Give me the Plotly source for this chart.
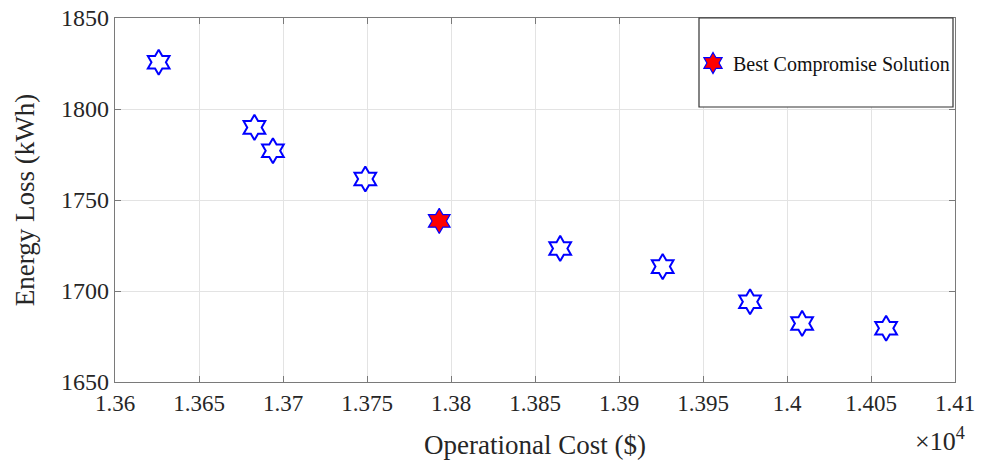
import plotly.graph_objects as go

# Pareto front data (Operational Cost in $, Energy Loss in kWh)
cost = [13626, 13683, 13694, 13749, 13865, 13926, 13978, 14009, 14059]
loss = [1825.7, 1789.9, 1777.1, 1761.5, 1723.4, 1713.4, 1694.1, 1682.2, 1679.5]

best_cost = [13793]
best_loss = [1738.5]

x_tickvals = [13600, 13650, 13700, 13750, 13800, 13850, 13900, 13950, 14000, 14050, 14100]
x_ticktext = ["1.36", "1.365", "1.37", "1.375", "1.38", "1.385", "1.39", "1.395", "1.4", "1.405", "1.41"]
y_tickvals = [1650, 1700, 1750, 1800, 1850]

FONT = "Liberation Serif, Times New Roman, serif"
TXT = "#262626"
AX = "#7a7a7a"
GRID = "#e3e3e3"

fig = go.Figure()
fig.add_trace(go.Scatter(
    x=cost, y=loss, mode="markers", showlegend=False,
    marker=dict(symbol="hexagram-open", size=19, color="#0000ff",
                line=dict(color="#0000ff", width=2)),
))
fig.add_trace(go.Scatter(
    x=best_cost, y=best_loss, mode="markers", name="Best Compromise Solution",
    marker=dict(symbol="hexagram", size=19, color="#ff0000",
                line=dict(color="#0000ff", width=1.2)),
))

fig.update_layout(
    width=991, height=467,
    margin=dict(l=115, r=36, t=18, b=85, autoexpand=False),
    paper_bgcolor="white", plot_bgcolor="white",
    font=dict(family=FONT, color=TXT),
    showlegend=True,
    legend=dict(
        x=(693 - 115) / 840, y=1 - (63 - 18) / 364,
        xanchor="left", yanchor="middle",
        bgcolor="rgba(0,0,0,0)", borderwidth=0,
        font=dict(family=FONT, size=20, color="#111111"),
        itemwidth=30,
    ),
    shapes=[dict(
        type="rect", xref="paper", yref="paper",
        x0=(699 - 115) / 840, x1=(953 - 115) / 840,
        y0=1 - (107 - 18) / 364, y1=1.0,
        line=dict(color="#333333", width=1.2), fillcolor="white", layer="above",
    )],
    annotations=[dict(
        text="×10<sup>4</sup>", xref="paper", yref="paper",
        x=(940 - 115) / 840, y=1 - (439 - 18) / 364,
        xanchor="center", yanchor="middle", showarrow=False,
        font=dict(family=FONT, size=26, color=TXT),
    )],
)

fig.update_xaxes(
    range=[13600, 14100], tickvals=x_tickvals, ticktext=x_ticktext,
    showgrid=True, gridcolor=GRID, gridwidth=1,
    showline=True, linecolor=AX, linewidth=1.2, mirror="ticks",
    ticks="inside", ticklen=6, tickcolor=AX,
    tickfont=dict(family=FONT, size=23, color=TXT),
    zeroline=False, automargin=False,
    title=dict(text="Operational Cost ($)", font=dict(family=FONT, size=27, color=TXT), standoff=20),
)
fig.update_yaxes(
    range=[1650, 1850], tickvals=y_tickvals,
    showgrid=True, gridcolor=GRID, gridwidth=1,
    showline=True, linecolor=AX, linewidth=1.2, mirror="ticks",
    ticks="inside", ticklen=6, tickcolor=AX,
    tickfont=dict(family=FONT, size=24, color=TXT),
    zeroline=False, automargin=False,
    title=dict(text="Energy Loss (kWh)", font=dict(family=FONT, size=27, color=TXT), standoff=18),
)

fig.write_html("out.html")
